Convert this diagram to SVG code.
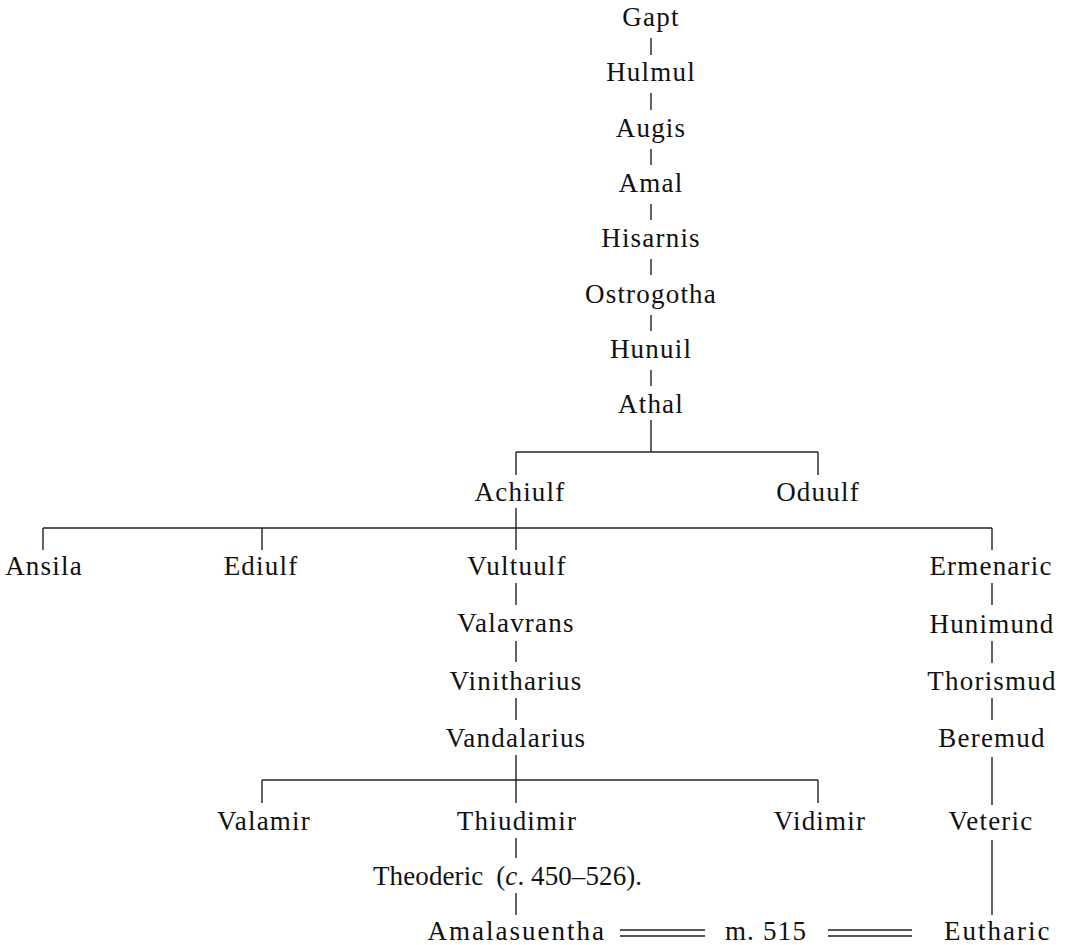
<svg xmlns="http://www.w3.org/2000/svg" width="1067" height="945" viewBox="0 0 1067 945">
<style>
text{font-family:"Liberation Serif","Times New Roman",serif;font-size:27px;letter-spacing:1.2px;fill:#111;text-anchor:middle}
.s{text-anchor:start}
.e{text-anchor:end}
.w{letter-spacing:2px}
#connectors line{stroke:#222;stroke-width:1.4}
</style>
<rect width="1067" height="945" fill="#fff"/>
<g id="connectors">
<line x1="651" y1="38" x2="651" y2="55"/>
<line x1="651" y1="93" x2="651" y2="110"/>
<line x1="651" y1="149" x2="651" y2="165"/>
<line x1="651" y1="204" x2="651" y2="220"/>
<line x1="651" y1="259" x2="651" y2="275"/>
<line x1="651" y1="315" x2="651" y2="331"/>
<line x1="651" y1="370" x2="651" y2="386"/>
<line x1="651" y1="420" x2="651" y2="452"/>
<line x1="516" y1="452" x2="818" y2="452"/>
<line x1="516" y1="452" x2="516" y2="475"/>
<line x1="818" y1="452" x2="818" y2="475"/>
<line x1="516" y1="508" x2="516" y2="550"/>
<line x1="43" y1="528" x2="992" y2="528"/>
<line x1="43" y1="528" x2="43" y2="550"/>
<line x1="262" y1="528" x2="262" y2="550"/>
<line x1="992" y1="528" x2="992" y2="550"/>
<line x1="516" y1="583" x2="516" y2="605"/>
<line x1="516" y1="641" x2="516" y2="662"/>
<line x1="516" y1="698" x2="516" y2="720"/>
<line x1="516" y1="755" x2="516" y2="803"/>
<line x1="262" y1="780" x2="818" y2="780"/>
<line x1="262" y1="780" x2="262" y2="803"/>
<line x1="818" y1="780" x2="818" y2="803"/>
<line x1="516" y1="838" x2="516" y2="858"/>
<line x1="516" y1="893" x2="516" y2="915"/>
<line x1="992" y1="583" x2="992" y2="605"/>
<line x1="992" y1="641" x2="992" y2="663"/>
<line x1="992" y1="698" x2="992" y2="720"/>
<line x1="992" y1="757" x2="992" y2="805"/>
<line x1="992" y1="840" x2="992" y2="915"/>
<line x1="620" y1="930" x2="705" y2="930"/>
<line x1="620" y1="936" x2="705" y2="936"/>
<line x1="828" y1="930" x2="912" y2="930"/>
<line x1="828" y1="936" x2="912" y2="936"/>
</g>
<g id="gapt"><text x="651" y="26">Gapt</text></g>
<g id="hulmul"><text x="651" y="81">Hulmul</text></g>
<g id="augis"><text x="651" y="137">Augis</text></g>
<g id="amal"><text x="651" y="192">Amal</text></g>
<g id="hisarnis"><text x="651" y="247">Hisarnis</text></g>
<g id="ostrogotha"><text x="651" y="303">Ostrogotha</text></g>
<g id="hunuil"><text x="651" y="358">Hunuil</text></g>
<g id="athal"><text x="651" y="413">Athal</text></g>
<g id="achiulf"><text x="520" y="501">Achiulf</text></g>
<g id="oduulf"><text x="818" y="501">Oduulf</text></g>
<g id="ansila"><text x="44" y="575">Ansila</text></g>
<g id="ediulf"><text x="261" y="575">Ediulf</text></g>
<g id="vultuulf"><text x="517" y="575">Vultuulf</text></g>
<g id="ermenaric"><text x="991" y="575">Ermenaric</text></g>
<g id="valavrans"><text x="516" y="632">Valavrans</text></g>
<g id="vinitharius"><text x="516" y="690">Vinitharius</text></g>
<g id="vandalarius"><text x="516" y="747">Vandalarius</text></g>
<g id="hunimund"><text x="992" y="633">Hunimund</text></g>
<g id="thorismud"><text x="992" y="690">Thorismud</text></g>
<g id="beremud"><text x="992" y="747">Beremud</text></g>
<g id="valamir"><text x="264" y="830">Valamir</text></g>
<g id="thiudimir"><text x="517" y="830">Thiudimir</text></g>
<g id="vidimir"><text x="820" y="830">Vidimir</text></g>
<g id="veteric"><text x="991" y="830">Veteric</text></g>
<g id="theoderic"><text class="s" x="373" y="885" style="letter-spacing:0.1px">Theoderic <tspan dx="6">(</tspan><tspan font-style="italic">c</tspan>. 450–526).</text></g>
<g id="amalasuentha"><text class="e w" x="606" y="940">Amalasuentha</text></g>
<g id="marriage"><text x="766" y="940">m. 515</text></g>
<g id="eutharic"><text class="s w" x="944" y="940">Eutharic</text></g>
</svg>
